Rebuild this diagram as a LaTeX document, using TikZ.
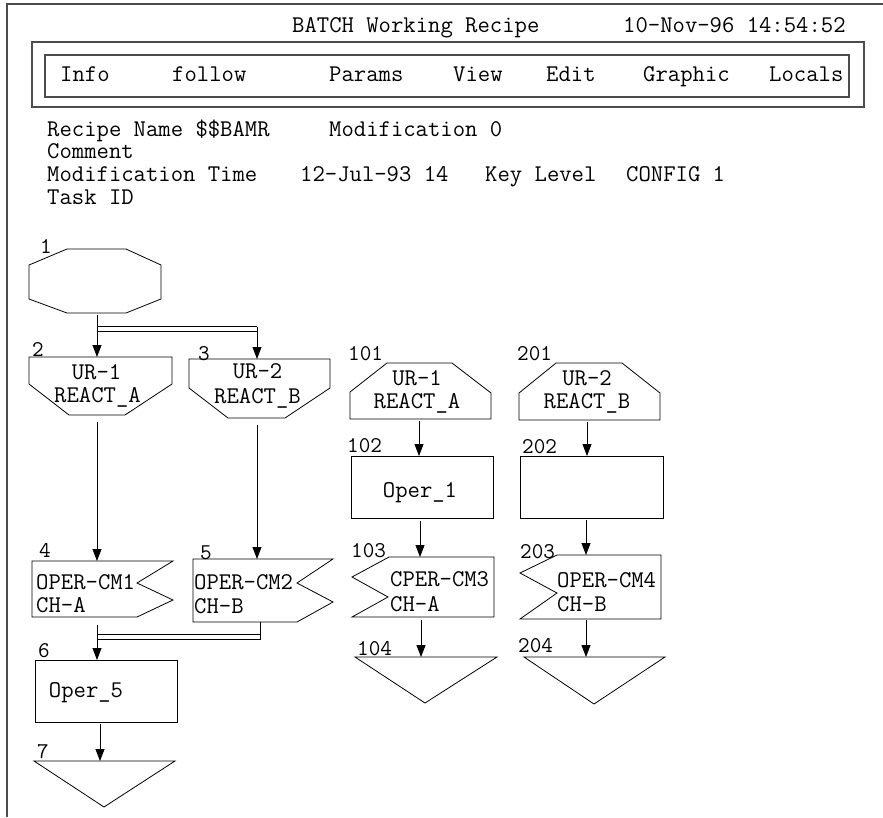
\documentclass[tikz,border=0pt]{standalone}
\usepackage{fontspec}
\usetikzlibrary{arrows.meta}

\begin{document}
\begin{tikzpicture}[x=1pt,y=-1pt,
  txt/.style={anchor=base west,inner sep=0pt,font=\ttfamily\fontsize{24}{26}\selectfont},
  lbl/.style={anchor=base,inner sep=0pt,font=\ttfamily\fontsize{24}{26}\selectfont},
  num/.style={anchor=base west,inner sep=0pt,font=\ttfamily\fontsize{22.5}{26}\selectfont},
  shp/.style={line width=0.8pt},
  arr/.style={-{Triangle[length=12pt,width=9pt]},line width=0.8pt},
  dbl/.style={double,double distance=4.2pt,line width=0.9pt},
  frm/.style={gray!60!black,line width=1.3pt}]
\useasboundingbox (0,0) rectangle (883,817);
%window frame
\draw[frm] (7,817) -- (7,4) -- (883,4);
%title line
\node[txt] (title) at (292,32) {BATCH Working Recipe};
\node[txt] (clock) at (623,32) {10-Nov-96 14:54:52};
%menu bar
\draw[frm] (32,42) rectangle (864,107);
\draw[frm] (45,55) rectangle (849,97);
\foreach \x/\m/\n in {60/Info/minfo,172/follow/mfollow,329/Params/mparams,453/View/mview,546/Edit/medit,643/Graphic/mgraphic,769/Locals/mlocals}
  \node[txt] (\n) at (\x,81) {\m};
%recipe header
\node[txt] (rname) at (47,136) {Recipe Name \$\$BAMR};
\node[txt] (rmod) at (329,136) {Modification 0};
\node[txt] (rcom) at (47,158) {Comment};
\node[txt] (rmtime) at (47,181) {Modification Time};
\node[txt] (rdate) at (300,181) {12-Jul-93 14};
\node[txt] (rkey) at (485,181) {Key Level};
\node[txt] (rcfg) at (626,181) {CONFIG 1};
\node[txt] (rtask) at (47,204) {Task ID};

%start
\draw[shp] (67,249) -- (126,249) -- (161,265) -- (161,299) -- (126,313) -- (67,313) -- (29,299) -- (29,265) -- cycle;
%units
\draw[shp] (29,357) -- (172,357) -- (172,384) -- (125,415) -- (69,415) -- (29,384) -- cycle;
\draw[shp] (189,359) -- (330,359) -- (330,388) -- (285,418) -- (228,418) -- (189,388) -- cycle;
\draw[shp] (387,363) -- (452,363) -- (491,393) -- (491,419) -- (350,419) -- (350,392) -- cycle;
\draw[shp] (556,363) -- (622,363) -- (660,393) -- (660,420) -- (519,420) -- (519,393) -- cycle;
%operations
\draw[shp] (351,456) rectangle (493,518);
\draw[shp] (520,456) rectangle (663,518);
\draw[shp] (35,660) rectangle (177,722);
%phases
\draw[shp] (32,561) -- (173,561) -- (137,583) -- (173,600) -- (137,617) -- (32,617) -- cycle;
\draw[shp] (193,559) -- (333,559) -- (297,583) -- (333,602) -- (297,622) -- (193,622) -- cycle;
\draw[shp] (389,557) -- (494,557) -- (494,617) -- (352,617) -- (388,597) -- (352,577) -- cycle;
\draw[shp] (557,555) -- (661,555) -- (661,619) -- (520,619) -- (557,593) -- (520,573) -- cycle;
%ends
\draw[shp] (34,761) -- (175,761) -- (104,807) -- cycle;
\draw[shp] (355,657) -- (497,657) -- (425,703) -- cycle;
\draw[shp] (524,657) -- (665,657) -- (594,704) -- cycle;

%step numbers
\node[num] (n1) at (40,253) {1};
\node[num] (n2) at (32,356) {2};
\node[num] (n3) at (198,360) {3};
\node[num] (n4) at (39,557) {4};
\node[num] (n5) at (200,559) {5};
\node[num] (n6) at (38,657) {6};
\node[num] (n7) at (37,758) {7};
\node[num] (n101) at (348,360) {101};
\node[num] (n201) at (517,360) {201};
\node[num] (n102) at (347,452) {102};
\node[num] (n202) at (522,453) {202};
\node[num] (n103) at (351,557) {103};
\node[num] (n203) at (520,558) {203};
\node[num] (n104) at (357,655) {104};
\node[num] (n204) at (518,652) {204};

%step texts
\node[lbl] (u2a) at (96.5,379) {UR-1};
\node[lbl] (u2b) at (97.5,402) {REACT\_A};
\node[lbl] (u3a) at (257.5,378) {UR-2};
\node[lbl] (u3b) at (257.5,403) {REACT\_B};
\node[lbl] (u101a) at (417,385) {UR-1};
\node[lbl] (u101b) at (417,408) {REACT\_A};
\node[lbl] (u201a) at (587,385) {UR-2};
\node[lbl] (u201b) at (587,408) {REACT\_B};
\node[lbl] (op102) at (420,497) {Oper\_1};
\node[lbl] (op6) at (86,697) {Oper\_5};
\node[txt] (p4a) at (36,589) {OPER-CM1};
\node[txt] (p4b) at (36,612) {CH-A};
\node[txt] (p5a) at (194,589) {OPER-CM2};
\node[txt] (p5b) at (194,613) {CH-B};
\node[txt] (p103a) at (390,586) {CPER-CM3};
\node[txt] (p103b) at (390,611) {CH-A};
\node[txt] (p203a) at (557,587) {OPER-CM4};
\node[txt] (p203b) at (557,611) {CH-B};

%link points
\coordinate (s1out) at (97,315);
\coordinate (u2in) at (97,357);
\coordinate (spl) at (97,329);
\coordinate (spr) at (257,329);
\coordinate (spt) at (257,326.5);
\coordinate (u3in) at (257,359);
\coordinate (u2out) at (97,422);
\coordinate (p4in) at (97,561);
\coordinate (u3out) at (257,425);
\coordinate (p5in) at (257,559);
\coordinate (p4out) at (97,625);
\coordinate (op6in) at (97,660);
\coordinate (jnl) at (97,637);
\coordinate (jnr) at (260,637);
\coordinate (p5out) at (260,622);
\coordinate (jnb) at (260,639.5);
\coordinate (op6out) at (100,724);
\coordinate (e7in) at (100,761);
\coordinate (u101out) at (419,421);
\coordinate (op102in) at (419,456);
\coordinate (u201out) at (587,422);
\coordinate (op202in) at (587,456);
\coordinate (op102out) at (420,521);
\coordinate (p103in) at (420,557);
\coordinate (op202out) at (586,520);
\coordinate (p203in) at (586,555);
\coordinate (p103out) at (421,620);
\coordinate (e104in) at (421,657);
\coordinate (p203out) at (586,620);
\coordinate (e204in) at (586,657);

%links
\draw[dbl] (spl) -- (spr);
\draw[dbl] (jnl) -- (jnr);
\draw[arr] (s1out) -- (u2in);
\draw[arr] (spt) -- (u3in);
\draw[arr] (u2out) -- (p4in);
\draw[arr] (u3out) -- (p5in);
\draw[shp] (p5out) -- (jnb);
\draw[arr] (p4out) -- (op6in);
\draw[arr] (op6out) -- (e7in);
\draw[arr] (u101out) -- (op102in);
\draw[arr] (u201out) -- (op202in);
\draw[arr] (op102out) -- (p103in);
\draw[arr] (op202out) -- (p203in);
\draw[arr] (p103out) -- (e104in);
\draw[arr] (p203out) -- (e204in);
\end{tikzpicture}
\end{document}
